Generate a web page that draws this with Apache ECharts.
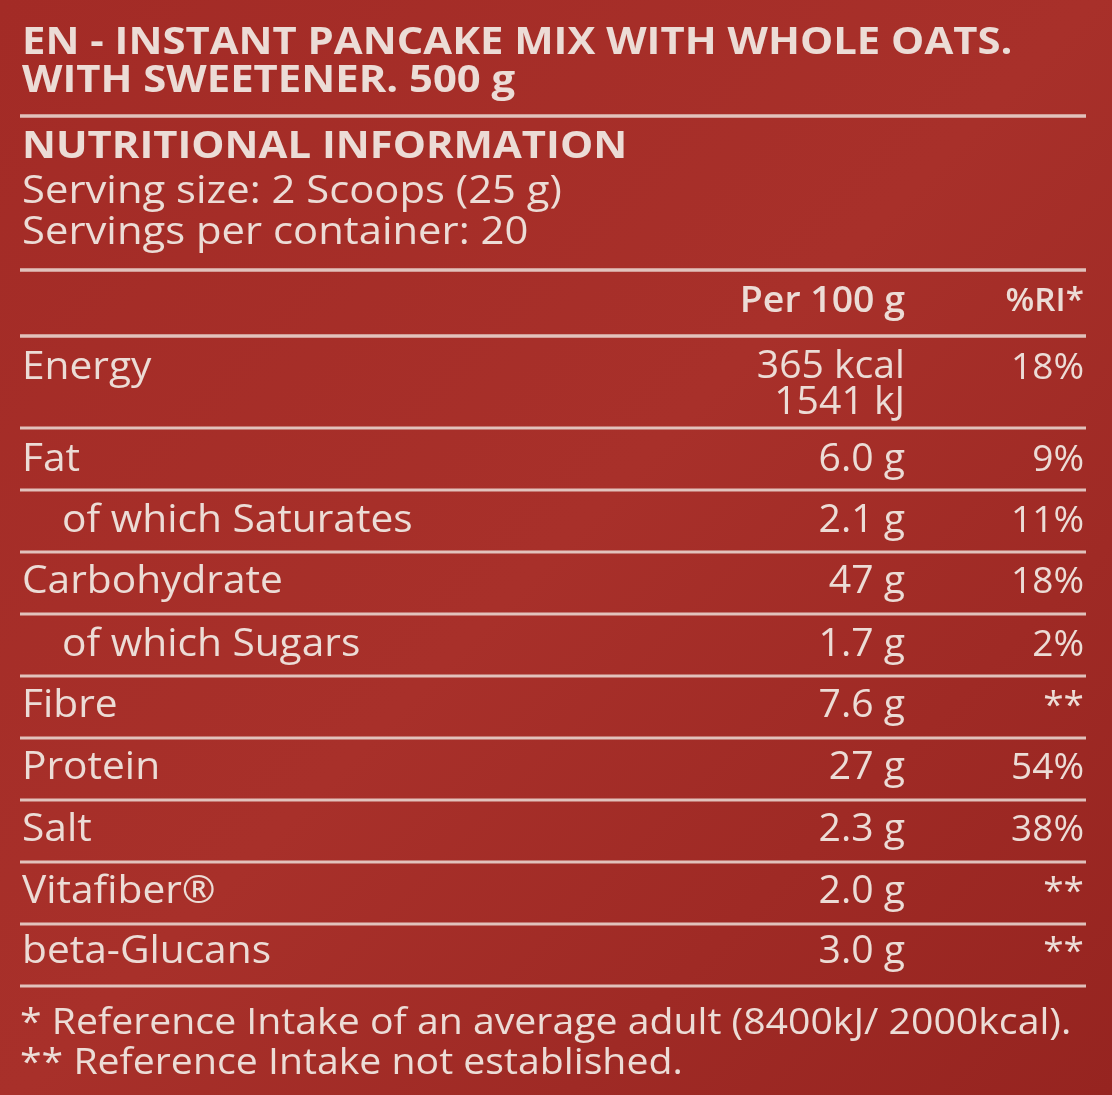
<!DOCTYPE html>
<html><head><meta charset="utf-8">
<script src="https://cdn.jsdelivr.net/npm/echarts@6/dist/echarts.min.js"></script>
<style>html,body{margin:0;padding:0;background:#9e2823}#c{width:1112px;height:1095px}</style>
</head><body><div id="c"></div>
<script>
const titleLines = ["EN - INSTANT PANCAKE MIX WITH WHOLE OATS.", "WITH SWEETENER. 500 g"];
const sectionTitle = "NUTRITIONAL INFORMATION";
const servingLines = ["Serving size: 2 Scoops (25 g)", "Servings per container: 20"];
const headers = ["Per 100 g", "%RI*"];
const nutrients = ["Energy", "Fat", "of which Saturates", "Carbohydrate", "of which Sugars", "Fibre", "Protein", "Salt", "Vitafiber®", "beta-Glucans"];
const indented = [false, false, true, false, true, false, false, false, false, false];
const per100g = ["365 kcal\n1541 kJ", "6.0 g", "2.1 g", "47 g", "1.7 g", "7.6 g", "27 g", "2.3 g", "2.0 g", "3.0 g"];
const ri = ["18%", "9%", "11%", "18%", "2%", "**", "54%", "38%", "**", "**"];
const footnotes = ["* Reference Intake of an average adult (8400kJ/ 2000kcal).", "** Reference Intake not established."];

const chart = echarts.init(document.getElementById('c'));
const col = '#ecdcd6';
const font = '"Open Sans", sans-serif';
const els = [];
function txt(x, y, s, size, weight, align, lh, sx) {
  els.push({type:'text', x, y, scaleX: sx||1.07, style:{text:s, fill:col, font:`${weight} ${size}px ${font}`, textAlign:align||'left', textVerticalAlign:'middle', lineHeight:lh||size}});
}
function line(y, w) {
  els.push({type:'line', shape:{x1:20, y1:y, x2:1086, y2:y}, style:{stroke:col, lineWidth:w||3.5, opacity:0.85}});
}
titleLines.forEach((t,i)=>txt(22, 43+i*38, t, 37, 'bold', 'left', 37, 1.13));
line(116);
txt(22, 147, sectionTitle, 37, 'bold', 'left', 37, 1.13);
servingLines.forEach((t,i)=>txt(22, 192+i*41, t, 38, 'normal', 'left', 38, 1.1));
line(270);
txt(905, 302, headers[0], 36, '600', 'right', 36, 1.04);
txt(1084, 302, headers[1], 32, '600', 'right', 32, 1.04);
line(336);
const rowY = [385, 460, 521, 582, 645, 706, 768, 830, 892, 952];
const lineY = [428, 490, 552, 614, 676, 738, 800, 862, 924, 986];
nutrients.forEach((n,i)=>{
  const y = i===0 ? 368 : rowY[i];
  txt(indented[i]?62:22, y, n, 38, 'normal');
  txt(905, rowY[i], per100g[i], 38, 'normal', 'right', 36, 1.03);
  txt(1084, y, ri[i], 37, 'normal', 'right', 37, 1.0);
  line(lineY[i], 3);
});
footnotes.forEach((t,i)=>txt(20, 1023+i*40, t, 37, 'normal', 'left', 37, 1.06));
chart.setOption({
  backgroundColor: {type:'linear', x:0, y:0, x2:1, y2:1, colorStops:[{offset:0,color:'#a32b26'},{offset:0.5,color:'#a8302a'},{offset:1,color:'#962420'}]},
  graphic: els
});
</script></body></html>
